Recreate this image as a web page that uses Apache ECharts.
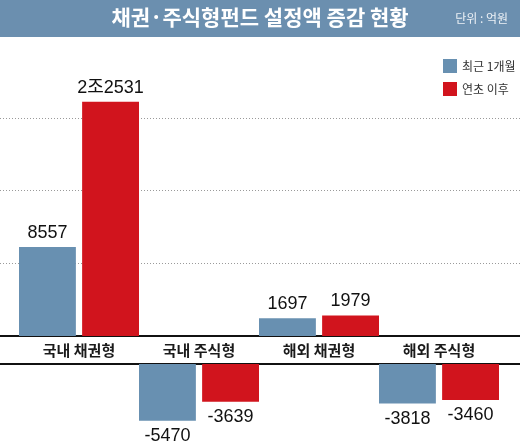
<!DOCTYPE html>
<html>
<head>
<meta charset="utf-8">
<script src="https://cdn.jsdelivr.net/npm/echarts@6/dist/echarts.min.js"></script>
<style>
html,body{margin:0;padding:0;background:#fff;}
#c{width:520px;height:447px;}
</style>
</head>
<body>
<div id="c"></div>
<script>
const categories = ['국내 채권형', '국내 주식형', '해외 채권형', '해외 주식형'];
const recentMonth = [8557, -5470, 1697, -3818];
const sinceNewYear = [22531, -3639, 1979, -3460];
const seriesNames = ['최근 1개월', '연초 이후'];
const titleText = '채권·주식형펀드 설정액 증감 현황';
const unitText = '단위 : 억원';
const gridStep = 7000;
const posMax = 28000;
const negMin = -8000;

const KR = 'Noto Sans CJK KR';
const NUM = 'Liberation Sans, Noto Sans CJK KR';
const BLUE = '#6890b1';
const RED = '#d1141d';

function fmt(v) {
  const a = Math.abs(v);
  const s = v < 0 ? '-' : '';
  if (a >= 10000) {
    return s + Math.floor(a / 10000) + '조' + String(a % 10000).padStart(4, '0');
  }
  return s + a;
}

const posH = 291;
const negH = (negMin / -posMax) * posH * -1 * -1;

const chart = echarts.init(document.getElementById('c'), null, {renderer: 'canvas'});

function barSeries(name, values, color, positive) {
  return {
    name: name,
    type: 'bar',
    xAxisIndex: positive ? 1 : 3,
    yAxisIndex: positive ? 1 : 3,
    data: values.map(v => (positive ? (v > 0 ? v : '-') : (v < 0 ? v : '-'))),
    itemStyle: {color: color},
    barGap: '11%',
    barCategoryGap: '0%',
    label: {
      show: true,
      position: positive ? 'top' : 'bottom',
      distance: positive ? 5 : 6,
      formatter: p => fmt(p.value),
      fontSize: 18,
      color: '#111',
      fontFamily: NUM
    }
  };
}

const hiddenAxis = {
  axisLine: {show: false}, axisTick: {show: false}, axisLabel: {show: false}, splitLine: {show: false}
};

chart.setOption({
  animation: false,
  backgroundColor: '#fff',
  graphic: [{
    type: 'rect', z: -10,
    shape: {x: 0, y: 0, width: 520, height: 37},
    style: {fill: '#6b8faf'}
  }],
  title: [
    {text: titleText, left: 'center', top: 0, padding: [7, 0],
     textStyle: {color: '#fff', fontSize: 21, fontWeight: 'bold', fontFamily: KR}},
    {text: unitText, right: 12, top: 0, padding: [12, 0],
     textStyle: {color: '#eef2f6', fontSize: 12, fontWeight: 'normal', fontFamily: KR}}
  ],
  legend: {
    orient: 'vertical', left: 443, top: 59, padding: 0,
    itemWidth: 14, itemHeight: 14, itemGap: 9, icon: 'rect',
    data: seriesNames,
    textStyle: {fontSize: 12, color: '#333', fontFamily: KR}
  },
  grid: [
    {left: 0, right: 0, top: 45, height: posH},
    {left: 19, right: 21, top: 45, height: posH},
    {left: 0, right: 0, top: 364, height: 8000 * posH / posMax},
    {left: 19, right: 21, top: 364, height: 8000 * posH / posMax}
  ],
  xAxis: [
    {gridIndex: 0, type: 'value', min: 0, max: 1, position: 'bottom',
     axisLine: {show: true, onZero: false, lineStyle: {color: '#111', width: 2}},
     axisTick: {show: false}, axisLabel: {show: false}, splitLine: {show: false}},
    {gridIndex: 1, type: 'category', data: categories, position: 'bottom',
     axisLine: {show: false, onZero: false}, axisTick: {show: false}, splitLine: {show: false},
     axisLabel: {show: true, margin: 7, fontSize: 15, fontWeight: 'bold', color: '#1a1a1a', fontFamily: KR}},
    {gridIndex: 2, type: 'value', min: 0, max: 1, position: 'top',
     axisLine: {show: true, onZero: false, lineStyle: {color: '#111', width: 2}},
     axisTick: {show: false}, axisLabel: {show: false}, splitLine: {show: false}},
    Object.assign({gridIndex: 3, type: 'category', data: categories, position: 'top'}, hiddenAxis)
  ],
  yAxis: [
    {gridIndex: 0, type: 'value', min: 0, max: posMax, interval: gridStep,
     axisLine: {show: false}, axisTick: {show: false}, axisLabel: {show: false},
     splitLine: {show: true, showMinLine: false, showMaxLine: false,
                 lineStyle: {color: '#9a9a9a', width: 1, type: [1, 2]}}},
    Object.assign({gridIndex: 1, type: 'value', min: 0, max: posMax}, hiddenAxis),
    Object.assign({gridIndex: 2, type: 'value', min: negMin, max: 0}, hiddenAxis),
    Object.assign({gridIndex: 3, type: 'value', min: negMin, max: 0}, hiddenAxis)
  ],
  series: [
    barSeries(seriesNames[0], recentMonth, BLUE, true),
    barSeries(seriesNames[1], sinceNewYear, RED, true),
    barSeries(seriesNames[0], recentMonth, BLUE, false),
    barSeries(seriesNames[1], sinceNewYear, RED, false)
  ]
});
</script>
</body>
</html>
